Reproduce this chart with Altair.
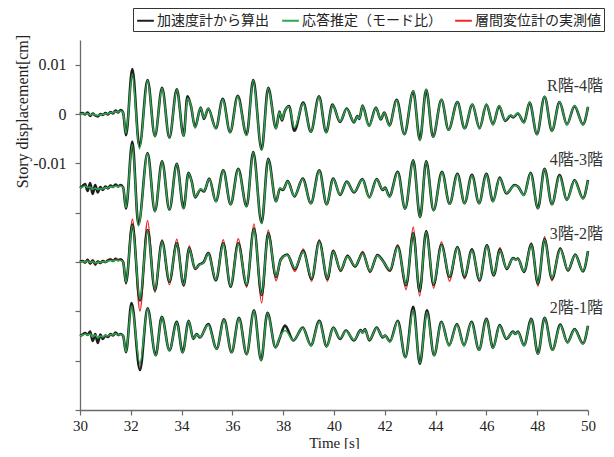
import altair as alt
import pandas as pd

S_BLACK = "加速度計から算出"
S_GREEN = "応答推定（モード比）"
S_RED = "層間変位計の実測値"
series_names = [S_BLACK, S_GREEN, S_RED]
series_colors = ["#1e1e1e", "#2ea84e", "#ec2a2e"]

panel_names = ["R階-4階", "4階-3階", "3階-2階", "2階-1階"]
panel_baselines = [0.0, -0.015, -0.030, -0.045]

x_ticks = [30, 32, 34, 36, 38, 40, 42, 44, 46, 48, 50]
y_ticks = [-0.06, -0.05, -0.04, -0.03, -0.02, -0.01, 0.0, 0.01]

# ---- quiet part before the main shaking (30.0 - 31.7 s) ----
t_pre = [30.0, 30.1, 30.2, 30.3, 30.4, 30.5, 30.6, 30.7, 30.8, 30.9,
         31.0, 31.1, 31.2, 31.3, 31.4, 31.5, 31.6, 31.7]

R4_black_pre = [0.0000, 0.0002, -0.0001, 0.0003, -0.0004, 0.0001, -0.0003, -0.0005, 0.0000, -0.0002,
                0.0002, -0.0001, 0.0004, 0.0001, 0.0007, 0.0003, 0.0008, 0.0002]
R4_green_pre = [0.0000, 0.0001, 0.0000, 0.0001, -0.0002, 0.0000, -0.0002, -0.0003, -0.0001, -0.0001,
                0.0001, 0.0000, 0.0003, 0.0002, 0.0005, 0.0004, 0.0006, 0.0002]

F43_black_pre = [0.0000, 0.0004, 0.0008, -0.0006, 0.0010, -0.0012, 0.0006, -0.0009, 0.0002, -0.0004,
                 0.0003, -0.0001, 0.0005, 0.0002, 0.0007, 0.0003, 0.0006, 0.0001]
F43_green_pre = [0.0000, 0.0002, 0.0004, 0.0001, 0.0002, -0.0003, 0.0000, -0.0003, -0.0001, -0.0002,
                 0.0001, 0.0000, 0.0003, 0.0002, 0.0004, 0.0003, 0.0004, 0.0001]

F32_black_pre = [0.0000, 0.0002, -0.0001, 0.0004, -0.0003, 0.0003, -0.0004, 0.0001, -0.0002, 0.0002,
                 0.0000, 0.0003, 0.0005, 0.0002, 0.0006, 0.0004, 0.0005, 0.0000]
F32_green_pre = [0.0000, 0.0001, 0.0000, 0.0002, -0.0001, 0.0001, -0.0002, 0.0000, -0.0001, 0.0001,
                 0.0000, 0.0002, 0.0003, 0.0002, 0.0004, 0.0003, 0.0003, 0.0000]
F32_red_pre = [0.0000, 0.0003, -0.0002, 0.0006, -0.0004, 0.0004, -0.0007, 0.0002, -0.0003, 0.0003,
               -0.0001, 0.0004, 0.0006, 0.0002, 0.0008, 0.0003, 0.0006, -0.0001]

F21_black_pre = [0.0000, 0.0003, 0.0006, 0.0002, 0.0009, -0.0010, 0.0004, -0.0014, 0.0003, -0.0006,
                 0.0001, -0.0002, 0.0004, 0.0001, 0.0007, 0.0002, 0.0004, 0.0000]
F21_green_pre = [0.0000, 0.0002, 0.0004, 0.0002, 0.0004, -0.0002, 0.0002, -0.0004, 0.0000, -0.0002,
                 0.0001, 0.0000, 0.0003, 0.0002, 0.0005, 0.0002, 0.0003, 0.0000]

# ---- R階-4階 ----
R4_t = [31.81, 32.06, 32.34, 32.66, 32.95, 33.23, 33.52, 33.81, 34.08, 34.23,
        34.37, 34.53, 34.75, 34.88, 35.05, 35.35, 35.62, 35.91, 36.21, 36.56,
        36.82, 37.15, 37.41, 37.72, 37.85, 37.95, 38.05, 38.23, 38.44, 38.79,
        39.09, 39.41, 39.69, 39.94, 40.24, 40.50, 40.79, 40.92, 41.00, 41.12,
        41.38, 41.65, 41.84, 41.98, 42.18, 42.47, 42.77, 43.12, 43.38, 43.63,
        43.90, 44.23, 44.51, 44.86, 45.14, 45.45, 45.73, 46.00, 46.26, 46.50,
        46.74, 46.96, 47.05, 47.24, 47.48, 47.70, 47.99, 48.29, 48.58, 48.88,
        49.17, 49.47, 49.80, 50.00]
R4_black = [-0.0043, 0.0091, -0.0066, 0.0069, -0.0045, 0.0053, -0.0048, 0.0050, -0.0044, 0.0036,
            0.0016, -0.0027, 0.0013, -0.0010, 0.0011, -0.0029, 0.0031, -0.0037, 0.0037, -0.0042,
            0.0069, -0.0072, 0.0053, -0.0029, 0.0005, -0.0013, 0.0004, 0.0016, -0.0034, 0.0023,
            -0.0036, 0.0036, -0.0037, 0.0019, -0.0016, 0.0011, -0.0017, -0.0004, -0.0010, 0.0017,
            -0.0024, 0.0013, -0.0011, 0.0003, -0.0023, 0.0029, -0.0041, 0.0046, -0.0052, 0.0049,
            -0.0046, 0.0029, -0.0032, 0.0024, -0.0029, 0.0019, -0.0029, 0.0019, -0.0021, 0.0016,
            -0.0014, -0.0003, -0.0007, 0.0001, -0.0017, 0.0023, -0.0041, 0.0035, -0.0034, 0.0024,
            -0.0021, 0.0016, -0.0021, 0.0014]
R4_green = [-0.0039, 0.0081, -0.0071, 0.0068, -0.0046, 0.0052, -0.0049, 0.0049, -0.0045, 0.0032,
            0.0017, -0.0028, 0.0012, -0.0008, 0.0011, -0.0030, 0.0030, -0.0038, 0.0036, -0.0044,
            0.0068, -0.0074, 0.0052, -0.0030, 0.0004, -0.0011, 0.0005, 0.0015, -0.0028, 0.0022,
            -0.0037, 0.0035, -0.0038, 0.0018, -0.0015, 0.0010, -0.0016, -0.0005, -0.0009, 0.0016,
            -0.0025, 0.0012, -0.0010, 0.0002, -0.0024, 0.0028, -0.0042, 0.0047, -0.0054, 0.0050,
            -0.0047, 0.0030, -0.0033, 0.0025, -0.0030, 0.0020, -0.0030, 0.0020, -0.0022, 0.0017,
            -0.0013, -0.0002, -0.0006, 0.0002, -0.0018, 0.0024, -0.0042, 0.0036, -0.0035, 0.0025,
            -0.0022, 0.0017, -0.0022, 0.0015]

# ---- 4階-3階 ----
F43_t = [31.81, 32.06, 32.30, 32.66, 32.95, 33.23, 33.52, 33.81, 34.08, 34.27,
         34.40, 34.53, 34.75, 34.88, 35.09, 35.35, 35.64, 35.93, 36.23, 36.56,
         36.82, 37.15, 37.41, 37.72, 37.87, 37.99, 38.18, 38.44, 38.77, 39.09,
         39.42, 39.71, 39.97, 40.24, 40.50, 40.79, 41.12, 41.39, 41.68, 41.92,
         42.01, 42.18, 42.51, 42.80, 43.12, 43.39, 43.63, 43.92, 44.25, 44.55,
         44.86, 45.14, 45.43, 45.71, 46.00, 46.26, 46.52, 46.79, 47.11, 47.24,
         47.48, 47.74, 48.03, 48.29, 48.58, 48.88, 49.17, 49.47, 49.80, 50.00]
F43_black = [-0.0042, 0.0094, -0.0074, 0.0071, -0.0047, 0.0054, -0.0044, 0.0049, -0.0041, 0.0031,
             0.0013, -0.0019, -0.0003, -0.0007, 0.0019, -0.0027, 0.0036, -0.0033, 0.0039, -0.0037,
             0.0073, -0.0071, 0.0059, -0.0027, -0.0001, -0.0004, 0.0014, -0.0017, 0.0019, -0.0031,
             0.0036, -0.0033, 0.0019, -0.0014, 0.0013, -0.0009, 0.0018, -0.0019, 0.0018, -0.0004,
             0.0001, -0.0017, 0.0033, -0.0042, 0.0056, -0.0059, 0.0054, -0.0045, 0.0033, -0.0032,
             0.0029, -0.0031, 0.0027, -0.0031, 0.0029, -0.0027, 0.0021, -0.0011, 0.0006, 0.0003,
             -0.0014, 0.0031, -0.0041, 0.0039, -0.0033, 0.0026, -0.0024, 0.0016, -0.0021, 0.0016]
F43_green = [-0.0040, 0.0088, -0.0077, 0.0070, -0.0048, 0.0053, -0.0045, 0.0048, -0.0042, 0.0030,
             0.0012, -0.0018, -0.0002, -0.0006, 0.0018, -0.0028, 0.0035, -0.0034, 0.0038, -0.0038,
             0.0072, -0.0072, 0.0058, -0.0028, 0.0000, -0.0003, 0.0013, -0.0016, 0.0018, -0.0032,
             0.0035, -0.0034, 0.0018, -0.0013, 0.0012, -0.0008, 0.0017, -0.0020, 0.0017, -0.0003,
             0.0000, -0.0018, 0.0032, -0.0043, 0.0055, -0.0060, 0.0053, -0.0046, 0.0032, -0.0033,
             0.0028, -0.0032, 0.0026, -0.0032, 0.0028, -0.0028, 0.0020, -0.0010, 0.0005, 0.0003,
             -0.0015, 0.0030, -0.0042, 0.0038, -0.0034, 0.0025, -0.0025, 0.0015, -0.0022, 0.0015]

# ---- 3階-2階 ----
F32_t = [31.81, 32.06, 32.36, 32.66, 32.95, 33.23, 33.52, 33.81, 34.08, 34.30,
         34.53, 34.70, 34.86, 35.05, 35.35, 35.64, 35.93, 36.23, 36.56, 36.85,
         37.15, 37.41, 37.72, 37.90, 38.16, 38.46, 38.79, 39.12, 39.42, 39.74,
         39.97, 40.26, 40.53, 40.83, 41.13, 41.42, 41.71, 41.92, 42.20, 42.51,
         42.84, 43.12, 43.37, 43.63, 43.92, 44.23, 44.55, 44.86, 45.14, 45.43,
         45.73, 46.02, 46.29, 46.53, 46.80, 47.05, 47.15, 47.24, 47.48, 47.77,
         48.03, 48.29, 48.58, 48.91, 49.21, 49.50, 49.80, 50.00]
F32_black = [-0.0042, 0.0076, -0.0078, 0.0065, -0.0057, 0.0042, -0.0040, 0.0038, -0.0047, 0.0028,
             -0.0014, -0.0005, -0.0001, 0.0018, -0.0037, 0.0038, -0.0050, 0.0038, -0.0047, 0.0068,
             -0.0067, 0.0058, -0.0030, 0.0005, 0.0015, -0.0014, 0.0022, -0.0034, 0.0042, -0.0034,
             0.0022, -0.0017, 0.0012, -0.0009, 0.0018, -0.0019, 0.0014, 0.0003, -0.0017, 0.0032,
             -0.0047, 0.0058, -0.0059, 0.0062, -0.0046, 0.0035, -0.0030, 0.0030, -0.0030, 0.0025,
             -0.0037, 0.0034, -0.0027, 0.0025, -0.0014, 0.0008, 0.0005, 0.0007, -0.0020, 0.0036,
             -0.0044, 0.0046, -0.0034, 0.0027, -0.0017, 0.0015, -0.0019, 0.0022]
F32_green = [-0.0041, 0.0074, -0.0076, 0.0064, -0.0056, 0.0041, -0.0039, 0.0037, -0.0046, 0.0027,
             -0.0013, -0.0006, -0.0002, 0.0017, -0.0036, 0.0037, -0.0049, 0.0037, -0.0046, 0.0067,
             -0.0066, 0.0057, -0.0029, 0.0004, 0.0014, -0.0013, 0.0021, -0.0033, 0.0041, -0.0033,
             0.0021, -0.0016, 0.0011, -0.0008, 0.0017, -0.0018, 0.0013, 0.0002, -0.0016, 0.0031,
             -0.0046, 0.0057, -0.0058, 0.0061, -0.0045, 0.0034, -0.0029, 0.0029, -0.0029, 0.0024,
             -0.0036, 0.0033, -0.0026, 0.0024, -0.0013, 0.0007, 0.0005, 0.0006, -0.0019, 0.0035,
             -0.0043, 0.0045, -0.0033, 0.0026, -0.0016, 0.0014, -0.0018, 0.0021]
F32_red = [-0.0045, 0.0087, -0.0099, 0.0084, -0.0061, 0.0045, -0.0046, 0.0046, -0.0049, 0.0033,
           -0.0015, -0.0006, 0.0000, 0.0019, -0.0038, 0.0045, -0.0051, 0.0047, -0.0051, 0.0077,
           -0.0083, 0.0065, -0.0038, 0.0002, 0.0015, -0.0019, 0.0026, -0.0039, 0.0045, -0.0039,
           0.0024, -0.0019, 0.0014, -0.0010, 0.0021, -0.0021, 0.0015, 0.0001, -0.0019, 0.0035,
           -0.0056, 0.0071, -0.0069, 0.0064, -0.0053, 0.0041, -0.0039, 0.0031, -0.0034, 0.0027,
           -0.0039, 0.0035, -0.0028, 0.0029, -0.0015, 0.0008, 0.0006, 0.0007, -0.0021, 0.0039,
           -0.0049, 0.0051, -0.0038, 0.0029, -0.0018, 0.0015, -0.0019, 0.0022]

# ---- 2階-1階 ----
F21_t = [31.81, 32.03, 32.36, 32.66, 32.98, 33.22, 33.52, 33.81, 34.04, 34.28,
         34.46, 34.59, 34.72, 35.05, 35.38, 35.67, 35.97, 36.26, 36.56, 36.85,
         37.13, 37.38, 37.70, 37.87, 38.07, 38.40, 38.77, 39.09, 39.42, 39.71,
         39.97, 40.24, 40.47, 40.79, 41.05, 41.13, 41.22, 41.39, 41.68, 41.92,
         42.01, 42.20, 42.51, 42.81, 43.12, 43.38, 43.66, 43.94, 44.23, 44.53,
         44.84, 45.12, 45.41, 45.71, 46.00, 46.26, 46.52, 46.79, 47.05, 47.14,
         47.24, 47.48, 47.77, 48.03, 48.29, 48.60, 48.91, 49.19, 49.47, 49.80,
         50.00]
F21_black = [-0.0033, 0.0067, -0.0069, 0.0056, -0.0039, 0.0039, -0.0029, 0.0029, -0.0033, 0.0031,
             -0.0006, 0.0004, -0.0003, 0.0024, -0.0026, 0.0034, -0.0033, 0.0037, -0.0037, 0.0052,
             -0.0049, 0.0047, -0.0023, -0.0003, 0.0021, -0.0009, 0.0017, -0.0019, 0.0031, -0.0021,
             0.0017, -0.0006, 0.0011, -0.0009, 0.0012, 0.0007, 0.0014, -0.0009, 0.0017, -0.0003,
             0.0001, -0.0011, 0.0031, -0.0043, 0.0059, -0.0056, 0.0052, -0.0039, 0.0029, -0.0019,
             0.0024, -0.0019, 0.0029, -0.0028, 0.0035, -0.0024, 0.0022, -0.0006, 0.0009, 0.0004,
             0.0009, -0.0019, 0.0035, -0.0036, 0.0037, -0.0028, 0.0023, -0.0013, 0.0014, -0.0015,
             0.0021]
F21_green = [-0.0032, 0.0061, -0.0056, 0.0055, -0.0040, 0.0038, -0.0030, 0.0028, -0.0034, 0.0030,
             -0.0005, 0.0003, -0.0002, 0.0023, -0.0027, 0.0033, -0.0034, 0.0036, -0.0038, 0.0051,
             -0.0050, 0.0046, -0.0024, -0.0002, 0.0011, -0.0008, 0.0016, -0.0020, 0.0030, -0.0022,
             0.0016, -0.0005, 0.0010, -0.0008, 0.0011, 0.0007, 0.0013, -0.0008, 0.0016, -0.0002,
             0.0001, -0.0012, 0.0030, -0.0044, 0.0053, -0.0055, 0.0048, -0.0040, 0.0028, -0.0020,
             0.0023, -0.0020, 0.0028, -0.0029, 0.0034, -0.0025, 0.0021, -0.0005, 0.0008, 0.0004,
             0.0008, -0.0020, 0.0034, -0.0037, 0.0036, -0.0029, 0.0022, -0.0014, 0.0013, -0.0016,
             0.0020]

# ---- build long table ----
rows = []


def add(panel_idx, series, times, values):
    assert len(times) == len(values), (panel_names[panel_idx], series, len(times), len(values))
    base = panel_baselines[panel_idx]
    for t, v in zip(times, values):
        rows.append({"panel": panel_names[panel_idx], "series": series, "t": t, "y": v + base})


add(0, S_BLACK, t_pre + R4_t, R4_black_pre + R4_black)
add(0, S_GREEN, t_pre + R4_t, R4_green_pre + R4_green)
add(1, S_BLACK, t_pre + F43_t, F43_black_pre + F43_black)
add(1, S_GREEN, t_pre + F43_t, F43_green_pre + F43_green)
add(2, S_RED, t_pre + F32_t, F32_red_pre + F32_red)
add(2, S_BLACK, t_pre + F32_t, F32_black_pre + F32_black)
add(2, S_GREEN, t_pre + F32_t, F32_green_pre + F32_green)
add(3, S_BLACK, t_pre + F21_t, F21_black_pre + F21_black)
add(3, S_GREEN, t_pre + F21_t, F21_green_pre + F21_green)

df = pd.DataFrame(rows)

label_offset = 0.0057
labels_df = pd.DataFrame({
    "label": panel_names,
    "t": [x_ticks[-1]] * len(panel_names),
    "y": [b + label_offset for b in panel_baselines],
})

SERIF = "Liberation Serif, Noto Sans CJK JP, serif"
AXIS_GRAY = "#6a6a6a"

x_scale = alt.Scale(domain=[30, 50], nice=False, zero=False)
y_scale = alt.Scale(domain=[-0.06, 0.015], nice=False, zero=False)

x_enc = alt.X(
    "t:Q", scale=x_scale,
    axis=alt.Axis(values=x_ticks, format="d", title="Time [s]", labelPadding=3,
                  labelFlush=False, labelFontSize=15,
                  titleY=25, titleBaseline="top", titleFontSize=15),
)
y_enc = alt.Y(
    "y:Q", scale=y_scale,
    axis=alt.Axis(
        values=y_ticks,
        labelExpr="abs(datum.value) < 1e-9 ? '0' : (datum.value > 0.005 ? '0.01' : (datum.value > -0.015 ? '-0.01' : ''))",
        title="Story displacement[cm]",
        titleX=-58, titleY=71, titleAngle=-90,
        titleAlign="center", titleBaseline="middle",
        labelPadding=9, labelFlush=False,
    ),
)
color_enc = alt.Color(
    "series:N",
    scale=alt.Scale(domain=series_names, range=series_colors),
    legend=alt.Legend(
        title=None, orient="none", legendX=53, legendY=-32,
        direction="horizontal", symbolType="stroke", symbolSize=280,
        symbolStrokeWidth=2, labelFont=SERIF, labelFontSize=14, labelColor="#222",
        strokeColor="#333", padding=3, columnPadding=9, labelLimit=400,
        labelOffset=2,
    ),
)

base = alt.Chart(df).encode(x=x_enc, y=y_enc, color=color_enc, detail="panel:N")

red_layer = base.transform_filter(alt.datum.series == S_RED).mark_line(
    strokeWidth=1.6, interpolate="monotone")
black_layer = base.transform_filter(alt.datum.series == S_BLACK).mark_line(
    strokeWidth=2.6, interpolate="monotone")
green_layer = base.transform_filter(alt.datum.series == S_GREEN).mark_line(
    strokeWidth=1.5, interpolate="monotone")

label_layer = alt.Chart(labels_df).mark_text(
    align="right", baseline="middle", dx=15, font=SERIF, fontSize=16, color="#333"
).encode(x=alt.X("t:Q", scale=x_scale), y=alt.Y("y:Q", scale=y_scale), text="label:N")

chart = (
    alt.layer(red_layer, black_layer, green_layer, label_layer)
    .properties(
        width=508, height=370,
        autosize=alt.AutoSizeParams(type="none"),
        padding={"left": 72, "top": 32, "right": 18, "bottom": 39},
    )
    .configure_view(stroke=None)
    .configure_axis(
        grid=False, domainColor=AXIS_GRAY, tickColor=AXIS_GRAY, domainWidth=1.3,
        tickWidth=1.2, tickSize=5, labelFont=SERIF, labelFontSize=16,
        labelColor="#222", titleFont=SERIF, titleFontSize=16,
        titleFontWeight="normal", titleColor="#222",
    )
)

chart.save("out.html", embed_options={"renderer": "svg", "actions": False})
